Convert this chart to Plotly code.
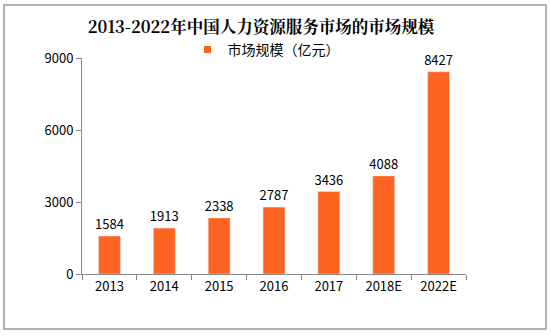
import plotly.graph_objects as go

categories = ["2013", "2014", "2015", "2016", "2017", "2018E", "2022E"]
values = [1584, 1913, 2338, 2787, 3436, 4088, 8427]
y_ticks = [0, 3000, 6000, 9000]

W, H = 551, 336
L, R, T, B = 82, 85, 58, 62
pw = W - L - R
ph = H - T - B

def px_x(x):
    return (x - L) / pw

def px_y(y):
    return (H - B - y) / ph

font_fam = "SimSun, 'Noto Sans CJK SC', sans-serif"
bar_color = "#FF6321"

fig = go.Figure()
fig.add_trace(go.Bar(
    x=categories, y=values, name="市场规模（亿元）",
    marker=dict(color=bar_color), width=0.4,
    text=[str(v) for v in values], textposition="outside",
    textfont=dict(size=13, color="#000000", family=font_fam),
    constraintext="none",
    cliponaxis=False, showlegend=False,
))
fig.add_trace(go.Scatter(
    x=[None], y=[None], mode="markers", name="市场规模（亿元）",
    marker=dict(symbol="square", size=7, color=bar_color),
    showlegend=True,
))

fig.update_layout(
    width=W, height=H,
    margin=dict(l=L, r=R, t=T, b=B),
    paper_bgcolor="white", plot_bgcolor="white",
    title=dict(text="<b>2013-2022年中国人力资源服务市场的市场规模</b>",
               x=261 / W, xanchor="center", y=1 - 27 / H, yanchor="middle",
               font=dict(size=16.5, color="#000000", family="'Noto Serif CJK SC', SimSun, 'Noto Sans CJK SC', serif")),
    showlegend=True,
    legend=dict(orientation="h", x=px_x(266), xanchor="center", y=px_y(50), yanchor="middle",
                font=dict(size=14, color="#000000", family=font_fam),
                itemwidth=30, bgcolor="rgba(0,0,0,0)"),
    xaxis=dict(showline=True, linecolor="#888888", linewidth=1,
               ticks="outside", tickson="boundaries", ticklen=5, tickcolor="#888888",
               tickfont=dict(size=13, color="#000000", family=font_fam),
               showgrid=False),
    yaxis=dict(range=[0, 9000], tickvals=y_ticks, showline=True, linecolor="#888888", linewidth=1,
               ticks="outside", ticklen=5, tickcolor="#888888",
               tickfont=dict(size=13, color="#000000", family=font_fam),
               showgrid=False, zeroline=False),
    shapes=[dict(type="rect", xref="paper", yref="paper",
                 x0=px_x(4), x1=px_x(546), y0=px_y(329), y1=px_y(5),
                 line=dict(color="#999999", width=1.5), fillcolor="rgba(0,0,0,0)")],
)

fig.write_html("out.html")
